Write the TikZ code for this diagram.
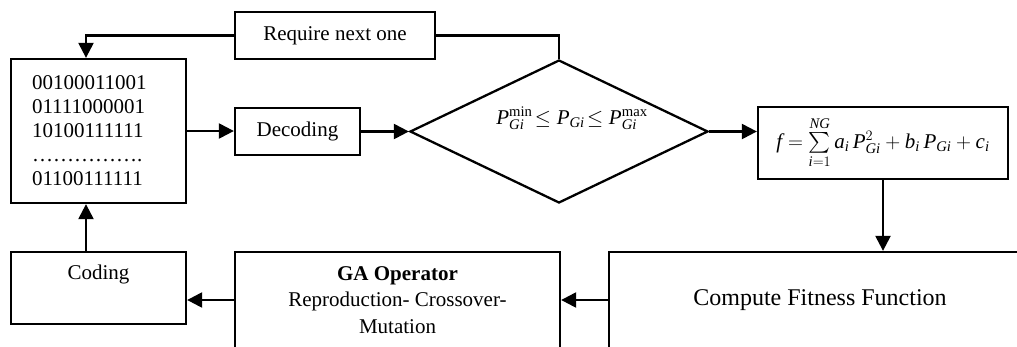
\documentclass[tikz,border=0pt]{standalone}
\usepackage{amsmath}
\usepackage{fontspec}
\setmainfont{Liberation Serif}
\usetikzlibrary{arrows.meta,shapes.geometric}
\newcommand{\tim}[1]{\textit{#1}}
\begin{document}
\begin{tikzpicture}[x=1pt,y=-1pt,
  box/.style={draw,line width=2.3pt,inner sep=0pt,font=\fontsize{21}{24}\selectfont},
  arr/.style={line width=2.3pt,-{Triangle[length=15pt,width=15pt]}},
  ln/.style={line width=2.3pt}]
\useasboundingbox (0,0) rectangle (1017,346);
\clip (0,0) rectangle (1017,346);
\node[box,minimum width=200pt,minimum height=47pt] (req) at (335,35.5) {Require next one};
\node[box,minimum width=175pt,minimum height=144pt,align=left,text width=133pt] (bin) at (98.5,131) {00100011001\\01111000001\\10100111111\\…………….\\01100111111};
\node[box,minimum width=125pt,minimum height=47pt] (dec) at (297.5,131.5) {Decoding};
\node[draw,ln,diamond,minimum width=298pt,minimum height=143pt,inner sep=0pt] (dia) at (559,131.5) {};
\node[font=\fontsize{21}{24}\selectfont] (cond) at (572,118) {$\tim{P}^{\textrm{min}}_{\tim{Gi}}\!\le \tim{P}_{\tim{Gi}}\!\le \tim{P}^{\textrm{max}}_{\tim{Gi}}$};
\node[box,minimum width=250pt,minimum height=72pt] (form) at (883,143) {$\tim{f} = \sum\limits_{\tim{i}=1}^{\tim{NG}} \tim{a}_{\tim{i}}\, \tim{P}^{2}_{\tim{Gi}} + \tim{b}_{\tim{i}}\, \tim{P}_{\tim{Gi}} + \tim{c}_{\tim{i}}$};
\node[box,minimum width=422pt,minimum height=96pt,font=\fontsize{24}{27}\selectfont] (fit) at (820,300) {Compute Fitness Function};
\node[box,minimum width=325pt,minimum height=96pt,align=center,font=\fontsize{21}{26.5}\selectfont] (ga) at (397.5,300) {\textbf{GA Operator}\\Reproduction- Crossover-\\Mutation};
\node[box,minimum width=175pt,minimum height=72pt,align=center] (cod) at (98.5,288) {Coding\\\strut};
\draw[arr] (req.west) -| ([xshift=-12.5pt]bin.north);
\draw[ln] (dia.north) |- (req.east);
\draw[arr] (bin.east) -- (bin.east -| dec.west);
\draw[arr] (dec.east) -- (dia.west);
\draw[arr] (dia.east) -- (dia.east -| form.west);
\draw[arr] (form.south) -- (form.south |- fit.north);
\draw[arr] (fit.west) -- (ga.east);
\draw[arr] (ga.west) -- (ga.west -| cod.east);
\draw[arr] ([xshift=-12.5pt]cod.north) -- ([xshift=-12.5pt]bin.south);
\end{tikzpicture}
\end{document}
